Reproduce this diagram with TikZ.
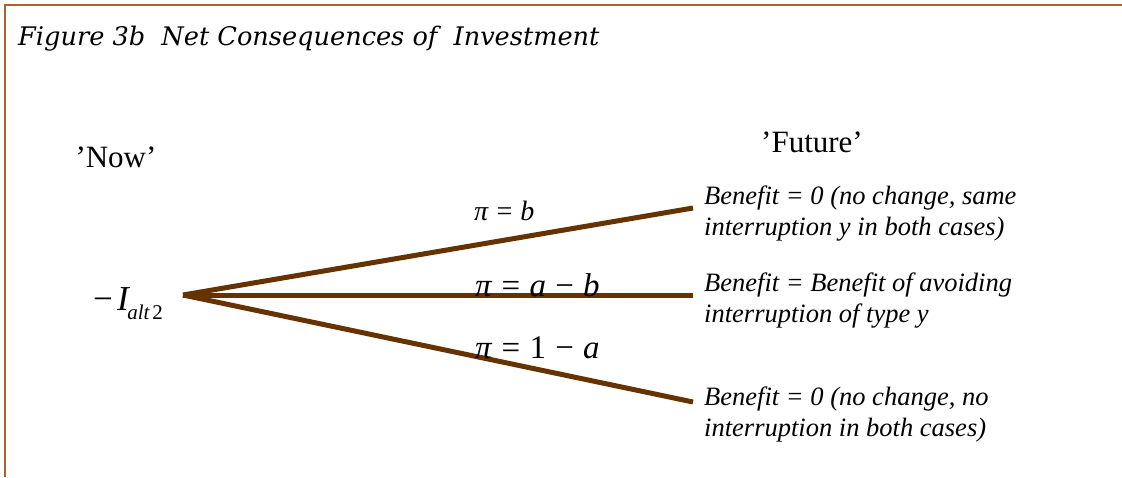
\documentclass[tikz,border=0pt]{standalone}
\usepackage{fontspec}
\setmainfont{Liberation Serif}
\newfontfamily\titlefont{DejaVu Serif}
\definecolor{branch}{RGB}{102,51,0}
\definecolor{frame}{RGB}{178,98,38}
\newcommand{\opsp}{\hspace{0.28em}}
\begin{document}
\begin{tikzpicture}[x=1pt,y=-1pt,
  branchline/.style={draw=branch,line width=5pt},
  benefit/.style={anchor=base west,inner sep=0pt,font=\fontsize{26.5}{31}\selectfont\itshape,align=left},
  heading/.style={anchor=base,inner sep=0pt,font=\fontsize{31}{34}\selectfont},
  prob/.style={anchor=base west,inner sep=0pt}]
\useasboundingbox (0,0) rectangle (1122,477);
\draw[frame,line width=2.5pt] (5,477) -- (5,5) -- (1122,5);
\node[anchor=base west,inner sep=0pt,font=\fontsize{25.6}{28}\selectfont\itshape\titlefont] (title) at (18,45) {Figure 3b\ \ Net Consequences of\ \ Investment};
\node[heading] (now) at (116,167) {’Now’};
\node[heading] (future) at (812,152) {’Future’};
\coordinate (root) at (183,295);
\coordinate (up) at (693,208);
\coordinate (mid) at (693,295);
\coordinate (low) at (693,402);
\draw[branchline] (root) -- (up);
\draw[branchline] (root) -- (mid);
\draw[branchline] (root) -- (low);
\node[anchor=base west,inner sep=0pt,font=\fontsize{35}{38}\selectfont] (inv) at (93,310) {−\hspace{0.12em}\textit{I}\hspace{-0.08em}\raisebox{-9pt}{\fontsize{21}{22}\selectfont\textit{alt}\hspace{0.12em}2}};
\node[prob,font=\fontsize{28}{30}\selectfont] (pb) at (474,220) {\textit{π}\opsp=\opsp\textit{b}};
\node[prob,font=\fontsize{33}{35}\selectfont] (pab) at (475,296) {\textit{π}\opsp=\opsp\textit{a}\opsp−\opsp\textit{b}};
\node[prob,font=\fontsize{33}{35}\selectfont] (p1a) at (475,358) {\textit{π}\opsp=\opsp1\opsp−\opsp\textit{a}};
\node[benefit] (b1) at (704,235) {Benefit = 0 (no change, same\\interruption y in both cases)};
\node[benefit] (b2) at (704,322) {Benefit = Benefit of avoiding\\interruption of type y};
\node[benefit] (b3) at (704,436) {Benefit = 0 (no change, no\\interruption in both cases)};
\end{tikzpicture}
\end{document}
